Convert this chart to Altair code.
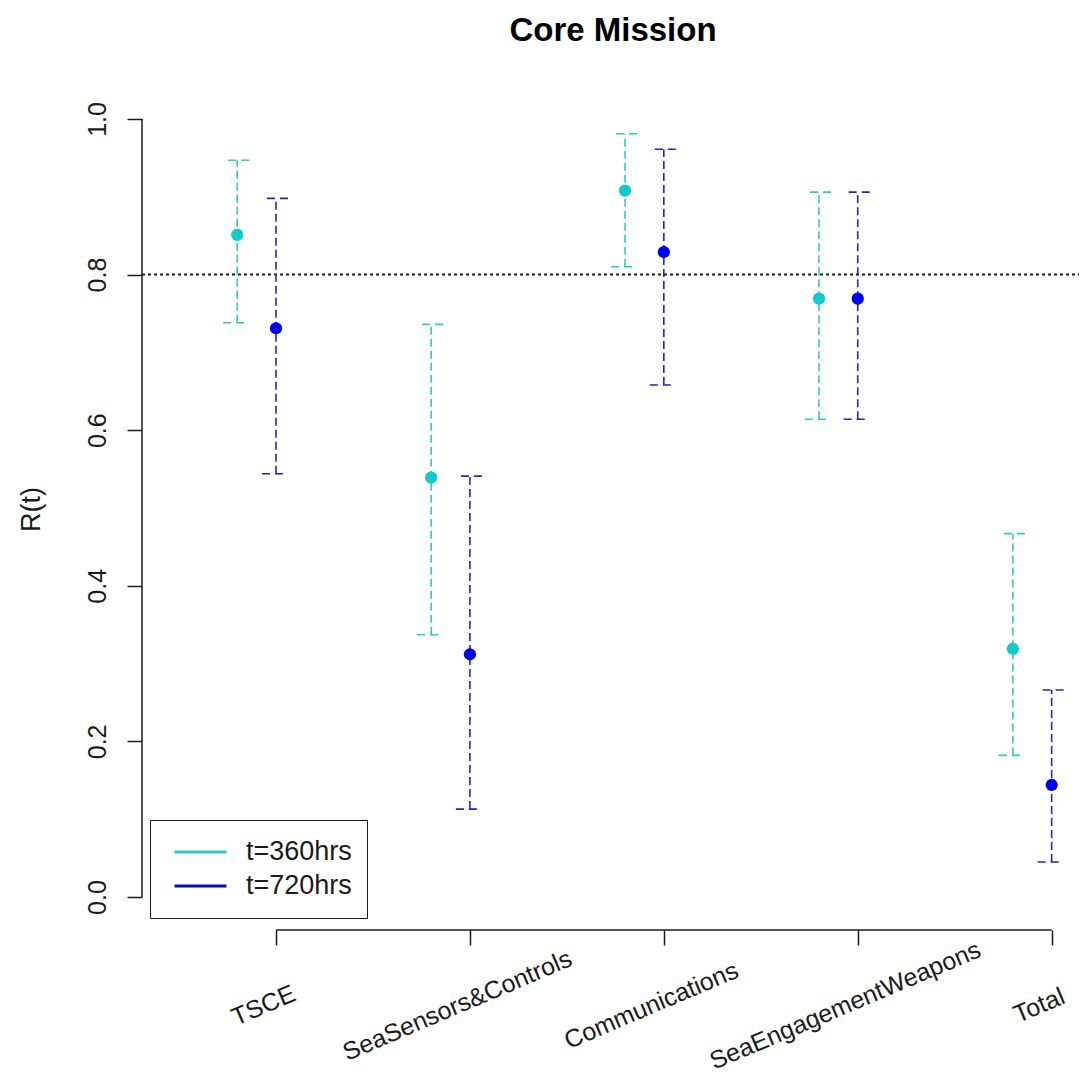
import json
import altair as alt
import pandas as pd

# ---------------- data ----------------
categories = ["TSCE", "SeaSensors&Controls", "Communications",
              "SeaEngagementWeapons", "Total"]
series_names = ["t=360hrs", "t=720hrs"]

r360 = [0.851, 0.539, 0.908, 0.769, 0.319]
lo360 = [0.738, 0.337, 0.810, 0.614, 0.182]
hi360 = [0.947, 0.736, 0.981, 0.906, 0.467]

r720 = [0.731, 0.312, 0.829, 0.769, 0.144]
lo720 = [0.544, 0.113, 0.658, 0.614, 0.045]
hi720 = [0.898, 0.541, 0.961, 0.906, 0.266]

threshold = [0.8]
y_ticks = [0.0, 0.2, 0.4, 0.6, 0.8, 1.0]
title_text = ["Core Mission"]

# ---------------- styling / layout ----------------
FONT = "Liberation Sans"
W, H = 937, 842
dodge = {"t=360hrs": -0.2, "t=720hrs": 0.0}
point_colors = ["#12CACC", "#0000F0"]
bar_colors = ["#33C6C6", "#2626A6"]
legend_colors = ["#2EC8C8", "#0A0AA6"]
INK = "#1a1a1a"

rows = []
for s, vals, los, his in ((series_names[0], r360, lo360, hi360),
                          (series_names[1], r720, lo720, hi720)):
    for i, c in enumerate(categories):
        rows.append({"category": c, "series": s, "pos": i + 1 + dodge[s],
                     "v": vals[i], "lo": los[i], "hi": his[i]})
df = pd.DataFrame(rows)

axis_df = pd.DataFrame({"y0": [y_ticks[0]], "y1": [y_ticks[-1]],
                        "x0": [1], "x1": [len(categories)]})

x_scale = alt.Scale(domain=[0.309, 5.141], nice=False, zero=False)
y_scale = alt.Scale(domain=[-0.0424, 1.0398], nice=False, zero=False)

x_axis = alt.Axis(
    values=list(range(1, len(categories) + 1)),
    labelExpr=f"{json.dumps(categories)}[datum.value - 1]",
    domain=False, grid=False, ticks=True, tickSize=15, tickWidth=1.5,
    tickColor=INK, labelAngle=337, labelAlign="center",
    labelBaseline="middle", labelPadding=60, labelOffset=-13,
    labelFont=FONT, labelFontSize=25, labelColor=INK, labelLimit=0,
    labelOverlap=False, labelFlush=False, labelBound=False, title=None,
)
y_axis = alt.Axis(
    values=y_ticks, format=".1f", domain=False, grid=False, ticks=True,
    tickSize=15, tickWidth=1.5, tickColor=INK, labelAngle=270,
    labelAlign="center", labelBaseline="alphabetic", labelPadding=22,
    labelFont=FONT, labelFontSize=25, labelColor=INK, labelOverlap=False,
    labelFlush=False, labelBound=False,
    title="R(t)", titleFont=FONT, titleFontSize=27, titleFontWeight="normal",
    titleColor=INK, titleAngle=270, titleX=-111, titleY=421,
    titleAlign="center", titleBaseline="middle",
)


def X(field="pos"):
    return alt.X(f"{field}:Q", scale=x_scale, axis=x_axis)


def Y(field):
    return alt.Y(f"{field}:Q", scale=y_scale, axis=y_axis)


def color(rng, legend=None):
    return alt.Color("series:N",
                     scale=alt.Scale(domain=series_names, range=rng),
                     legend=legend)


base = alt.Chart(df)

thr = alt.Chart(pd.DataFrame({"v": threshold})).mark_rule(
    strokeDash=[3, 3], strokeWidth=2, color=INK
).encode(y=Y("v"), x=alt.value(0), x2=alt.value(W))

bars = base.mark_rule(strokeDash=[8, 4], strokeWidth=1.6).encode(
    x=X(), y=Y("lo"), y2="hi:Q", color=color(bar_colors))

caps_top = base.mark_rule(strokeDash=[8, 5], strokeWidth=1.6,
                          xOffset=-9, x2Offset=13).encode(
    x=X(), x2="pos:Q", y=Y("hi"), color=color(bar_colors))

caps_bot = base.mark_rule(strokeDash=[8, 5], strokeWidth=1.6,
                          xOffset=-14, x2Offset=8).encode(
    x=X(), x2="pos:Q", y=Y("lo"), color=color(bar_colors))

points = base.mark_circle(size=150, opacity=1).encode(
    x=X(), y=Y("v"), color=color(point_colors))

yline = alt.Chart(axis_df).mark_rule(color=INK, strokeWidth=1.5).encode(
    x=alt.value(0), y=Y("y0"), y2="y1:Q")
xline = alt.Chart(axis_df).mark_rule(color=INK, strokeWidth=1.5).encode(
    y=alt.value(H), x=X("x0"), x2="x1:Q")

legend = alt.Legend(
    title=None, orient="none", legendX=8, legendY=732,
    symbolType="stroke", symbolSize=2704, symbolStrokeWidth=3,
    labelFont=FONT, labelFontSize=27, labelColor=INK, labelOffset=18,
    padding=15, rowPadding=0, clipHeight=34, strokeColor=INK,
    fillColor="white", symbolOffset=8,
)
legend_layer = base.transform_filter("false").mark_rule(strokeWidth=3).encode(
    x=X(), y=Y("v"), color=color(legend_colors, legend))

title = alt.Chart(pd.DataFrame({"t": title_text})).mark_text(
    font=FONT, fontSize=33, fontWeight="bold", color="#000",
    align="center", baseline="alphabetic"
).encode(text="t:N", x=alt.value(471), y=alt.value(-47))

chart = alt.layer(
    thr, bars, caps_top, caps_bot, points, yline, xline, legend_layer, title
).resolve_scale(color="independent").properties(
    width=W, height=H,
    autosize=alt.AutoSizeParams(type="none"),
    padding={"left": 134, "top": 80, "right": 0, "bottom": 147},
    background="white",
).configure_view(stroke=None)

chart.save("out.html", embed_options={"renderer": "svg", "actions": False})
